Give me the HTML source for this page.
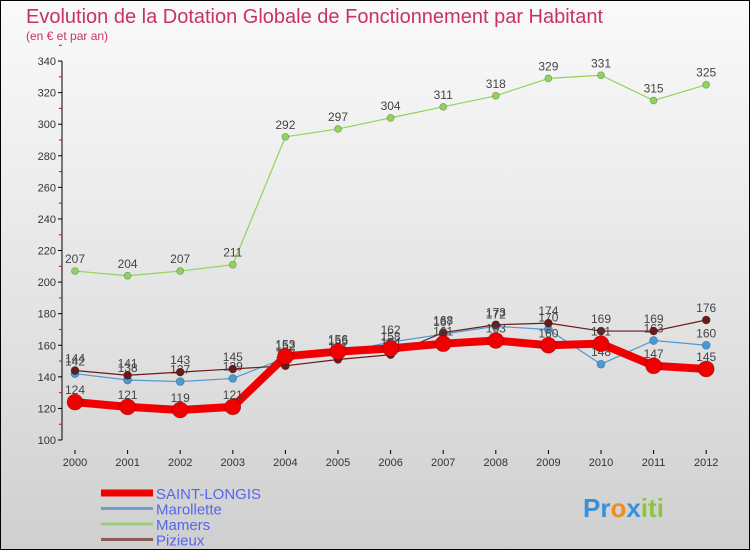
<!DOCTYPE html>
<html><head><meta charset="utf-8"><style>
body{margin:0}
#c{width:748px;height:548px;border:1px solid #000;background:linear-gradient(#fafafa,#e2e2e2 60%,#cfcfcf);position:relative;font-family:"Liberation Sans",sans-serif;overflow:hidden}
svg text{font-family:"Liberation Sans",sans-serif}
</style></head><body>
<div id="c">
<svg id="s" width="748" height="548">
<text x="25" y="22" font-size="20" fill="#c8345e">Evolution de la Dotation Globale de Fonctionnement par Habitant</text>
<text x="25" y="39" font-size="12" fill="#c8345e">(en € et par an)</text>
</svg>
</div>
<script>
const years=[2000,2001,2002,2003,2004,2005,2006,2007,2008,2009,2010,2011,2012];
const saintLongis=[124,121,119,121,153,156,158,161,163,160,161,147,145];
const marollette=[142,138,137,139,152,155,162,167,172,170,148,163,160];
const mamers=[207,204,207,211,292,297,304,311,318,329,331,315,325];
const pizieux=[144,141,143,145,147,151,154,168,173,174,169,169,176];
const yTicks=[100,120,140,160,180,200,220,240,260,280,300,320,340];
const NS='http://www.w3.org/2000/svg';
const s=document.getElementById('s');
const X=i=>74+i*52.6, Y=v=>439-(v-100)*1.579;
function el(t,a,p){const e=document.createElementNS(NS,t);for(const k in a)e.setAttribute(k,a[k]);(p||s).appendChild(e);return e;}
const ax=el('g',{});


el('line',{x1:61,y1:Y(340),x2:61,y2:Y(100),stroke:'#000'},ax);
yTicks.forEach(v=>{
 el('line',{x1:57,y1:Y(v),x2:61,y2:Y(v),stroke:'#000'},ax);
 el('line',{x1:58,y1:Y(v+10),x2:61,y2:Y(v+10),stroke:'#e00'},ax);
 const t=el('text',{x:55,y:Y(v)+4,'font-size':11,fill:'#333','text-anchor':'end'},ax);t.textContent=v;
 
 
});
years.forEach((y,i)=>{
 el('line',{x1:X(i),y1:449,x2:X(i),y2:453,stroke:'#000'},ax);
 const t=el('text',{x:X(i),y:465,'font-size':11,fill:'#333','text-anchor':'middle'},ax);t.textContent=y;
 
 
});
function series(d,c,w,r,name,lab){
 const g=el('g',{});
 
 
 el('polyline',{points:d.map((v,i)=>X(i)+','+Y(v)).join(' '),fill:'none',stroke:c,'stroke-width':w,'stroke-linejoin':'round'},g);
 d.forEach((v,i)=>{
  const p=el('circle',{cx:X(i),cy:Y(v),r:r,fill:c,stroke:'rgba(0,0,0,0.3)','stroke-width':0.7},g);
  
  
  const t=el('text',{x:X(i),y:Y(v)-8,'font-size':12,fill:'#444','text-anchor':'middle'},g);t.textContent=v;
 });
}
series(mamers,'#8fd45a',1.2,3.5,'series-mamers');
series(marollette,'#4a9ad6',1.2,4,'series-marollette');
series(pizieux,'#6b1a1a',1.2,4,'series-pizieux');
series(saintLongis,'#f00000',8,8,'series-saint-longis');
const leg=[['SAINT-LONGIS','#f00000',7],['Marollette','#6fa0c8',3],['Mamers','#9ccf7a',3],['Pizieux','#8a5a5a',3]];
leg.forEach((l,i)=>{
 const g=el('g',{});
 
 
 const y=492+i*15.5;
 el('line',{x1:100,y1:y,x2:152,y2:y,stroke:l[1],'stroke-width':l[2]},g);
 const t=el('text',{x:155,y:y+6,'font-size':15,fill:'#5566ee'},g);t.textContent=l[0];
});
const lg=el('text',{x:582,y:516,'font-size':26,'font-weight':'bold',fill:'#f28c1e'});
lg.innerHTML='<tspan fill="#3a8fd8">Pr</tspan><tspan fill="#f28c1e">o</tspan><tspan fill="#3a8fd8">x</tspan><tspan fill="#8cc63f">iti</tspan>';


</script>
</body></html>
